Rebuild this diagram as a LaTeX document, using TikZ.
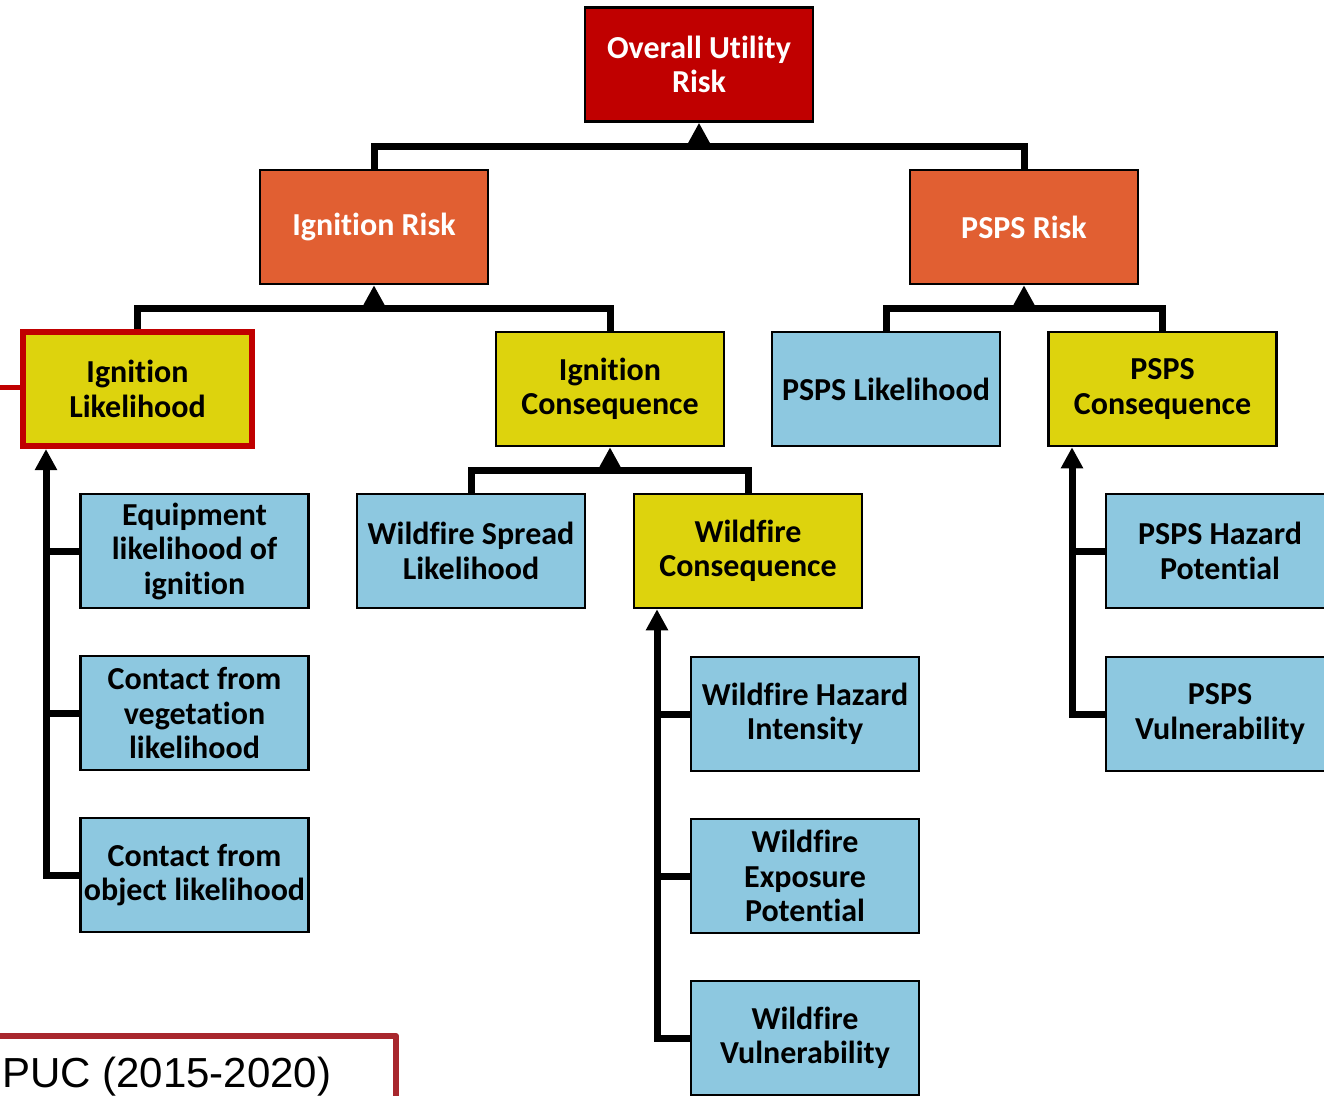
\documentclass[tikz,border=0pt]{standalone}
\usepackage{fontspec}
\usetikzlibrary{arrows.meta}
\newfontfamily\boxfont{Carlito}[Ligatures={NoCommon}]
\newfontfamily\notefont{Liberation Sans}
\definecolor{toprisk}{HTML}{C00000}
\definecolor{midrisk}{HTML}{E15F32}
\definecolor{factor}{HTML}{DDD30D}
\definecolor{leaf}{HTML}{8DC8E0}
\definecolor{framered}{HTML}{A8272D}
\tikzset{
  box/.style={draw=black, line width=2.5pt, minimum width=228pt, minimum height=114pt,
    inner sep=2pt, align=center, font=\boxfont\bfseries\fontsize{32}{34.5}\selectfont},
  topbox/.style={box, fill=toprisk, text=white},
  midbox/.style={box, fill=midrisk, text=white},
  factorbox/.style={box, fill=factor},
  leafbox/.style={box, fill=leaf},
  link/.style={line width=7pt, line join=miter, line cap=butt},
  uplink/.style={link, -{Triangle[length=21pt,width=21pt]}},
}
\begin{document}
\begin{tikzpicture}[x=1pt, y=-1pt]
\useasboundingbox (0,0) rectangle (1324,1095);

% top level
\node[topbox] (ou) at (699,64.5) {Overall Utility\\Risk};
\node[midbox] (ir) at (374,227) {Ignition Risk};
\node[midbox] (pr) at (1024,227) {PSPS Risk};

% second level
\node[factorbox, draw=toprisk, line width=6pt, minimum width=229pt, minimum height=114pt] (il) at (137.5,389) {Ignition\\Likelihood};
\node[factorbox] (ic) at (610,389) {Ignition\\Consequence};
\node[leafbox] (pl) at (886,389) {PSPS Likelihood};
\node[factorbox] (pc) at (1162.5,389) {PSPS\\Consequence};

% ignition likelihood drivers
\node[leafbox] (e1) at (194.5,551) {Equipment\\likelihood of\\ignition};
\node[leafbox] (e2) at (194.5,713) {Contact from\\vegetation\\likelihood};
\node[leafbox] (e3) at (194.5,875) {Contact from\\object likelihood};

% ignition consequence drivers
\node[leafbox] (ws) at (471,551) {Wildfire Spread\\Likelihood};
\node[factorbox] (wc) at (748,551) {Wildfire\\Consequence};
\node[leafbox] (wh) at (805,714) {Wildfire Hazard\\Intensity};
\node[leafbox] (we) at (805,876) {Wildfire\\Exposure\\Potential};
\node[leafbox] (wv) at (805,1038) {Wildfire\\Vulnerability};

% PSPS consequence drivers
\node[leafbox] (ph) at (1220,551) {PSPS Hazard\\Potential};
\node[leafbox] (pv) at (1220,714) {PSPS\\Vulnerability};

% tree bars
\coordinate (b1) at (699,146);
\coordinate (b2) at (374,308);
\coordinate (b3) at (1024,308);
\coordinate (b4) at (610,470);
\draw[link] (ir.north) |- (b1) -| (pr.north);
\draw[uplink] (b1) -- (ou.south);
\draw[link] (il.north) |- (b2) -| (ic.north);
\draw[uplink] (b2) -- (ir.south);
\draw[link] (pl.north) |- (b3) -| (pc.north);
\draw[uplink] (b3) -- (pr.south);
\draw[link] (ws.north) |- (b4) -| (wc.north);
\draw[uplink] (b4) -- (ic.south);

% spines
\coordinate (s1) at (46,0);
\coordinate (s2) at (657,0);
\coordinate (s3) at (1072,0);
\draw[uplink] (e3.west) -| (s1 |- il.south);
\draw[link] (e1.west) -- (e1.west -| s1);
\draw[link] (e2.west) -- (e2.west -| s1);
\draw[uplink] (wv.west) -| (s2 |- wc.south);
\draw[link] (wh.west) -- (wh.west -| s2);
\draw[link] (we.west) -- (we.west -| s2);
\draw[uplink] (pv.west) -| (s3 |- pc.south);
\draw[link] (ph.west) -- (ph.west -| s3);

% side link leaving the left edge
\coordinate (off) at (-5,387);
\draw[toprisk, line width=5pt] (off) -- (off -| il.west);

% source frame
\draw[framered, line width=6pt, line join=round] (-10,1036) -- (396,1036) -- (396,1110);
\node[anchor=base west, inner sep=0pt, font=\notefont\fontsize{42}{48}\selectfont] (src) at (2,1087) {PUC (2015-2020)};
\end{tikzpicture}
\end{document}
